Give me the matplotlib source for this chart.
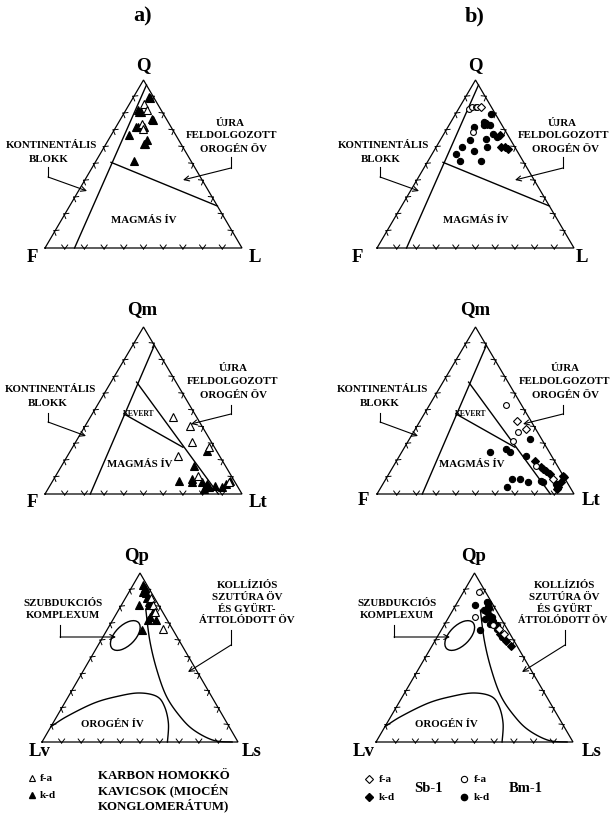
import numpy as np
import matplotlib
matplotlib.use("Agg")
import matplotlib.pyplot as plt
from matplotlib.patches import Ellipse

SERIF = "Liberation Serif"

# ---------------------------------------------------------------- data
# Q-F-L compositions (%), given as (Q, F, L)
qfl_karbon_fa = [(86, 7, 7), (82, 7, 11), (74, 14, 12), (71, 15, 14)]
qfl_karbon_kd = [(90, 2, 8), (89, 2, 9), (82, 12, 6), (81, 11, 8), (81, 12, 7),
                 (77, 7, 16), (76, 7, 17), (72, 18, 10), (72, 17, 11), (72, 14, 14),
                 (67, 24, 9), (64, 16, 20), (62, 18, 20), (62, 19, 19), (52, 29, 19)]
qfl_sb1_fa = [(84, 5, 11)]
qfl_sb1_kd = [(74, 7, 19), (67, 4, 29), (60, 7, 33), (60, 5, 35), (59, 4, 37)]
qfl_bm1_fa = [(83, 12, 5), (84, 10, 6), (84, 8, 8), (84, 7, 9), (69, 17, 14)]
qfl_bm1_kd = [(80, 2, 18), (75, 8, 17), (73, 6, 21), (73, 9, 18), (72, 15, 13),
              (68, 7, 25), (66, 6, 28), (64, 21, 15), (65, 12, 23), (60, 27, 13),
              (58, 22, 20), (60, 14, 26), (56, 32, 12), (52, 32, 16), (52, 21, 27)]

# Qm-F-Lt compositions (%), given as (Qm, F, Lt)
qmflt_karbon_fa = [(46, 12, 42), (41, 6, 53), (31, 10, 59), (23, 21, 56),
                   (28, 3, 69), (11, 17, 72), (7, 3, 90)]
qmflt_karbon_kd = [(26, 5, 69), (17, 16, 67), (8, 28, 64), (7, 22, 71), (9, 21, 70),
                   (7, 17, 76), (5, 16, 79), (6, 15, 79), (4, 15, 81), (5, 11, 84),
                   (4, 8, 88), (6, 5, 89), (8, 2, 90), (3, 18, 79)]
qmflt_sb1_fa = [(44, 7, 49), (39, 5, 56), (9, 6, 85)]
qmflt_sb1_kd = [(20, 10, 70), (16, 9, 75), (15, 8, 77), (14, 7, 79), (12, 6, 82),
                (10, 0, 90), (11, 0, 89), (7, 3, 90), (4, 6, 90), (3, 7, 90)]
qmflt_bm1_fa = [(53, 8, 39), (37, 10, 53), (32, 15, 53), (17, 11, 72)]
qmflt_bm1_kd = [(33, 6, 61), (27, 21, 52), (25, 20, 55), (25, 30, 45), (23, 13, 64),
                (9, 27, 64), (9, 23, 68), (7, 20, 73), (4, 32, 64), (8, 13, 79),
                (7, 12, 81), (6, 6, 88)]

# Qp-Lv-Ls compositions (%), given as (Qp, Lv, Ls)
qplvls_karbon_fa = [(85, 2, 13), (81, 3, 16), (77, 4, 19), (67, 5, 28)]
qplvls_karbon_kd = [(93, 2, 5), (91, 2, 7), (89, 4, 7), (88, 3, 9), (85, 4, 11),
                    (83, 4, 13), (81, 5, 14), (81, 10, 9), (78, 4, 18), (74, 8, 18),
                    (72, 6, 22), (72, 10, 18), (66, 16, 18)]
qplvls_sb1_fa = [(67, 4, 29), (64, 3, 33)]
qplvls_sb1_kd = [(72, 5, 23), (64, 5, 31), (60, 4, 36), (57, 3, 40)]
qplvls_bm1_fa = [(89, 3, 8), (74, 13, 13), (69, 6, 25)]
qplvls_bm1_kd = [(81, 9, 10), (66, 14, 20), (83, 2, 15), (82, 2, 16), (80, 3, 17),
                 (79, 3, 18), (78, 6, 16), (77, 5, 18), (75, 5, 20), (74, 4, 22),
                 (73, 8, 19), (71, 5, 24), (70, 7, 23), (69, 4, 27), (67, 5, 28),
                 (62, 5, 33)]

# field boundaries (same ternary order as the data)
qfl_continental = [(97, 0, 3), (0, 85, 15)]
qfl_recycled = [(51, 41, 8), (25, 0, 75)]
qmflt_continental = [(89, 0, 11), (0, 77, 23)]
qmflt_mixed_upper = [(67, 20, 13), (0, 12, 88)]
qmflt_mixed_lower = [(48, 36, 16), (28, 16, 56)]
qplvls_collision = [(78, 8, 14), (60, 15, 25), (43, 20, 37), (27, 23, 50),
                    (15, 22, 63), (7, 19, 74), (1, 12, 87), (0, 3, 97)]
qplvls_arc = [(9, 91, 0), (15, 80, 5), (23, 62, 15), (27, 48, 25), (29, 36, 35),
              (27, 28, 45), (21, 27, 52), (11, 30, 59), (0, 36, 64)]
qplvls_subduction = (63, 26, 11)

# --------------------------------------------------------------- layout
# triangle frames: left corner x, base y, base width, height (pixels)
FRAMES = {
    "a_top": (45, 248, 197, 168), "b_top": (377, 248, 197, 168),
    "a_mid": (45, 494, 197, 167), "b_mid": (377, 494, 197, 167),
    "a_bot": (42, 742, 196, 169), "b_bot": (376, 742, 197, 169),
}

fig = plt.figure(figsize=(6.14, 8.13), dpi=100)
ax = fig.add_axes([0, 0, 1, 1])
ax.set_xlim(0, 614)
ax.set_ylim(813, 0)
ax.axis("off")


def tern(frame, comps):
    """(top, left, right) percentages -> pixel coordinates inside a frame."""
    xl, yb, w, h = FRAMES[frame]
    c = np.atleast_2d(np.asarray(comps, float))
    s = c.sum(axis=1)
    a = c[:, 0] / s
    r = c[:, 2] / s
    return xl + w * (r + a / 2), yb - h * a


def smooth(xs, ys, n=14):
    pts = np.column_stack([xs, ys])
    P = np.vstack([pts[0], pts, pts[-1]])
    out = []
    for i in range(1, len(P) - 2):
        p0, p1, p2, p3 = P[i - 1], P[i], P[i + 1], P[i + 2]
        for t in np.linspace(0, 1, n, endpoint=False):
            out.append(0.5 * (2 * p1 + (-p0 + p2) * t
                              + (2 * p0 - 5 * p1 + 4 * p2 - p3) * t * t
                              + (-p0 + 3 * p1 - 3 * p2 + p3) * t ** 3))
    out.append(pts[-1])
    out = np.array(out)
    return out[:, 0], out[:, 1]


def triangle(frame):
    xl, yb, w, h = FRAMES[frame]
    V = np.array([[xl, yb], [xl + w / 2, yb - h], [xl + w, yb]])
    ax.plot(*np.vstack([V, V[:1]]).T, color="black", lw=0.9,
            solid_joinstyle="miter")
    centre = V.mean(axis=0)
    for i in range(3):
        p0, p1 = V[i], V[(i + 1) % 3]
        t = (p1 - p0) / np.linalg.norm(p1 - p0)
        nrm = np.array([-t[1], t[0]])
        if np.dot(centre - p0, nrm) < 0:
            nrm = -nrm
        for k in range(1, 10):
            p = p0 + (p1 - p0) * k / 10
            tip = p - 1.0 * nrm
            for sgn in (-1, 1):
                end = tip + 4.0 * nrm + sgn * 3.0 * t
                ax.plot([tip[0], end[0]], [tip[1], end[1]], color="black", lw=0.7)


def bline(frame, comps, curved=False):
    x, y = tern(frame, comps)
    if curved:
        x, y = smooth(x, y)
    ax.plot(x, y, color="black", lw=1.0)


def label(x, y, s, size=7.8, **kw):
    ax.text(x, y, s, ha="center", va="center", fontsize=size,
            fontweight="bold", family=SERIF, **kw)


def elbow(pts):
    pts = np.asarray(pts, float)
    ax.plot(pts[:-1, 0], pts[:-1, 1], color="black", lw=0.8)
    ax.annotate("", xy=pts[-1], xytext=pts[-2],
                arrowprops=dict(arrowstyle="->", lw=0.8, color="black",
                                mutation_scale=9, shrinkA=0, shrinkB=0))


def scatter(frame, comps, marker, filled, size):
    x, y = tern(frame, comps)
    ax.plot(x, y, linestyle="none", marker=marker, markersize=size,
            markerfacecolor="black" if filled else "white",
            markeredgecolor="black", markeredgewidth=0.8)


# ------------------------------------------------------------- drawing
label(143, 16, "a)", size=16)
label(475, 16, "b)", size=16)

for f in FRAMES:
    triangle(f)

# Q-F-L
for f, dx in (("a_top", 0), ("b_top", 332)):
    bline(f, qfl_continental)
    bline(f, qfl_recycled)
    label(144 + dx, 220, "MAGMÁS ÍV")
    label(51 + dx, 146, "KONTINENTÁLIS")
    label(49 + dx, 159, "BLOKK")
    elbow([(48 + dx, 167), (48 + dx, 177), (87 + dx, 191)])
    label(230 + dx, 123, "ÚJRA")
    label(232 + dx, 136, "FELDOLGOZOTT")
    label(234 + dx, 149, "OROGÉN ÖV")
    elbow([(231 + dx, 157), (231 + dx, 168), (183 + dx, 180)])

label(143, 66, "Q", size=13.5)
label(32, 257, "F", size=13.5)
label(255, 257, "L", size=13.5)
label(475, 66, "Q", size=13.5)
label(357, 257, "F", size=13.5)
label(582, 257, "L", size=13.5)

# Qm-F-Lt
for f, dx in (("a_mid", 0), ("b_mid", 332)):
    bline(f, qmflt_continental)
    bline(f, qmflt_mixed_upper)
    bline(f, qmflt_mixed_lower)
    label(139 + dx, 414, "KEVERT", size=5.5)
    label(140 + dx, 464, "MAGMÁS ÍV")
    label(50 + dx, 389, "KONTINENTÁLIS")
    label(48 + dx, 403, "BLOKK")
    elbow([(48 + dx, 413), (48 + dx, 422), (86 + dx, 436)])
    label(233 + dx, 368, "ÚJRA")
    label(233 + dx, 381, "FELDOLGOZOTT")
    label(233 + dx, 395, "OROGÉN ÖV")
    elbow([(231 + dx, 405), (231 + dx, 414), (191 + dx, 424)])

label(142, 310, "Qm", size=13.5)
label(32, 502, "F", size=13.5)
label(258, 502, "Lt", size=13.5)
label(475, 310, "Qm", size=13.5)
label(363, 500, "F", size=13.5)
label(591, 500, "Lt", size=13.5)

# Qp-Lv-Ls
for f, dx in (("a_bot", 0), ("b_bot", 334)):
    bline(f, qplvls_collision, curved=True)
    bline(f, qplvls_arc, curved=True)
    ex, ey = tern(f, qplvls_subduction)
    ax.add_patch(Ellipse((ex[0], ey[0]), 37, 20, angle=-45, fill=False,
                         edgecolor="black", lw=1.0))
    label(112 + dx, 724, "OROGÉN ÍV")
    label(63 + dx, 603, "SZUBDUKCIÓS")
    label(63 + dx, 615, "KOMPLEXUM")
    elbow([(60 + dx, 625), (60 + dx, 637), (116 + dx, 637)])
    cx = 247 + dx if dx == 0 else 564
    label(cx, 585, "KOLLÍZIÓS")
    label(cx, 597, "SZUTÚRA ÖV")
    label(cx, 609, "ÉS GYÜRT-" if dx == 0 else "ÉS GYÜRT")
    label(cx - (0 if dx == 0 else 1), 620, "ÁTTOLÓDOTT ÖV",
          size=7.8 if dx == 0 else 7.3)
    elbow([(231 + dx, 630), (231 + dx, 645), (188 + dx, 672)])

label(137, 556, "Qp", size=13.5)
label(40, 751, "Lv", size=13.5)
label(252, 751, "Ls", size=13.5)
label(474, 556, "Qp", size=13.5)
label(364, 751, "Lv", size=13.5)
label(592, 751, "Ls", size=13.5)

# samples
scatter("a_top", qfl_karbon_kd, "^", True, 5.5)
scatter("a_top", qfl_karbon_fa, "^", False, 5.5)
scatter("a_mid", qmflt_karbon_kd, "^", True, 5.5)
scatter("a_mid", qmflt_karbon_fa, "^", False, 5.5)
scatter("a_bot", qplvls_karbon_kd, "^", True, 5.5)
scatter("a_bot", qplvls_karbon_fa, "^", False, 5.5)

for f, sb_fa, sb_kd, bm_fa, bm_kd in (
        ("b_top", qfl_sb1_fa, qfl_sb1_kd, qfl_bm1_fa, qfl_bm1_kd),
        ("b_mid", qmflt_sb1_fa, qmflt_sb1_kd, qmflt_bm1_fa, qmflt_bm1_kd),
        ("b_bot", qplvls_sb1_fa, qplvls_sb1_kd, qplvls_bm1_fa, qplvls_bm1_kd)):
    scatter(f, bm_kd, "o", True, 4.5)
    scatter(f, sb_kd, "D", True, 4.5)
    scatter(f, bm_fa, "o", False, 4.2)
    scatter(f, sb_fa, "D", False, 4.2)

# legends
ax.plot([32], [778], linestyle="none", marker="^", markersize=5,
        markerfacecolor="white", markeredgecolor="black", markeredgewidth=0.8)
ax.plot([32], [795], linestyle="none", marker="^", markersize=5,
        markerfacecolor="black", markeredgecolor="black")
ax.text(40, 778, "f-a", fontsize=8, fontweight="bold", family=SERIF, va="center")
ax.text(40, 795, "k-d", fontsize=8, fontweight="bold", family=SERIF, va="center")
for i, line in enumerate(["KARBON HOMOKKÖ", "KAVICSOK (MIOCÉN",
                          "KONGLOMERÁTUM)"]):
    ax.text(98, 776 + i * 14.5, line, fontsize=9.3, fontweight="bold",
            family=SERIF, va="center")

for x0, mk, name in ((369, "D", "Sb-1"), (464, "o", "Bm-1")):
    ax.plot([x0], [779], linestyle="none", marker=mk, markersize=4.5,
            markerfacecolor="white", markeredgecolor="black", markeredgewidth=0.8)
    ax.plot([x0], [797], linestyle="none", marker=mk, markersize=4.5,
            markerfacecolor="black", markeredgecolor="black")
    ax.text(x0 + 10, 779, "f-a", fontsize=8, fontweight="bold", family=SERIF,
            va="center")
    ax.text(x0 + 10, 797, "k-d", fontsize=8, fontweight="bold", family=SERIF,
            va="center")
    ax.text(x0 + 45, 788, name, fontsize=10.5, fontweight="bold", family=SERIF,
            va="center")

fig.savefig("out.png", dpi=100, facecolor="white")
